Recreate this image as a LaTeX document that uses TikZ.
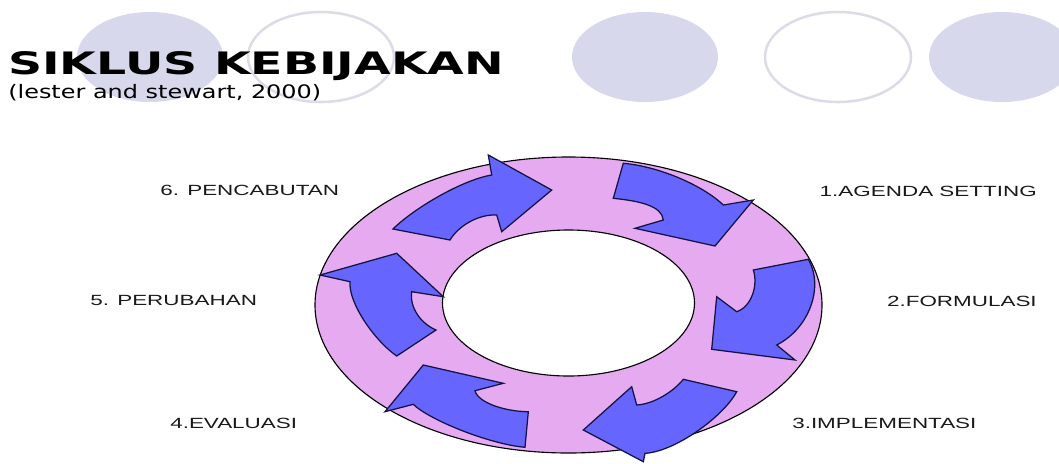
\documentclass[tikz,border=0pt]{standalone}
\usepackage{fontspec}
\setmainfont{Liberation Sans}
\newfontfamily\titlefont{DejaVu Sans}
\usepackage{graphicx}
\definecolor{ringpink}{HTML}{E6AAF0}
\definecolor{arrowblue}{HTML}{6666FF}
\definecolor{arrowline}{HTML}{141444}
\definecolor{dotfill}{HTML}{D8D8EC}
\definecolor{dotline}{HTML}{DCDCE8}
\newcommand{\widetext}[1]{\scalebox{1.52}[1]{#1}}

\begin{document}
\begin{tikzpicture}[x=0.025cm, y=-0.025cm,
        steplabel/.style={inner sep=0pt, text=black!90, font=\fontsize{10.5}{12}\selectfont},
        dotfull/.style={fill=dotfill},
        dotring/.style={draw=dotline, line width=1.8pt},
        cyclearrow/.style={fill=arrowblue, draw=arrowline, line width=0.9pt, line join=miter},
        ]
                \useasboundingbox (0,0) rectangle (1059,463);
                \clip (0,0) rectangle (1059,463);
                \fill[white] (0,0) rectangle (1059,463);

                % header dots
                \fill[dotfull] (150,57) ellipse [x radius=73, y radius=45];
                \draw[dotring] (321,57) ellipse [x radius=73, y radius=45];
                \fill[dotfull] (645,57) ellipse [x radius=73, y radius=45];
                \draw[dotring] (838,57) ellipse [x radius=73, y radius=45];
                \fill[dotfull] (1002,57) ellipse [x radius=73, y radius=45];

                \node[inner sep=0pt, anchor=base west] at (8,74) (title)
                    {\titlefont\bfseries\fontsize{22}{24}\selectfont\scalebox{1.53}[1]{SIKLUS KEBIJAKAN}};
                \node[inner sep=0pt, anchor=base west] at (8,98) (source)
                    {\titlefont\fontsize{13.2}{15}\selectfont\scalebox{1.29}[1]{(lester and stewart, 2000)}};

                % ring
                \draw[fill=ringpink, line width=0.8pt] (568.5,305) ellipse [x radius=253.5, y radius=148];
                \draw[fill=white, line width=0.8pt] (568.5,303) ellipse [x radius=126, y radius=73];

                % arrows, clockwise from the top
                \draw[cyclearrow] (623.3,163.3) .. controls (656.7,166) and (701.7,184.3) .. (723.3,205) -- (753.3,200) -- (715,246)
                    -- (635,228.3) -- (663.3,220) .. controls (662,206) and (640,201) .. (613.3,198.3) -- cycle;
                \draw[cyclearrow] (808.3,259.3) .. controls (824,286) and (810,328) .. (776.7,345) -- (795,360) -- (711.7,349.3)
                    -- (716.7,296.7) -- (736.7,311.7) .. controls (751.7,306.7) and (758.3,285) .. (753.3,270) -- cycle;
                \draw[cyclearrow] (736.7,391.7) .. controls (723.3,416.7) and (675,451.7) .. (645,453.3) -- (643.3,461.7) -- (583.3,430)
                    -- (631.7,386.7) -- (636.7,405) .. controls (655,404) and (675,390) .. (683.3,379.3) -- cycle;
                \draw[cyclearrow] (525,447.3) .. controls (488.3,444) and (428.3,419.3) .. (413.3,404.3) -- (385,411.7) -- (423.3,365)
                    -- (503.3,383.3) -- (475,390.7) .. controls (478.3,403.3) and (506.7,411.7) .. (528.3,411.7) -- cycle;
                \draw[cyclearrow] (396.7,356) .. controls (375,341) and (348.3,303.3) .. (350,281.7) -- (320,275) -- (396.7,253.3)
                    -- (443.3,296.7) -- (411.7,291.7) .. controls (409.3,308.3) and (421.7,324) .. (436,330) -- cycle;
                \draw[cyclearrow] (393,229) .. controls (413,209) and (461.7,180) .. (491.7,175) -- (488.3,155) -- (551.7,190)
                    -- (501.7,231.7) -- (496.7,215) .. controls (478.3,214) and (458.3,226) .. (450,240) -- cycle;

                % step labels
                \node[steplabel, anchor=base east] at (1037,196) (agenda) {\widetext{1.AGENDA SETTING}};
                \node[steplabel, anchor=base east] at (1037,306) (formulasi) {\widetext{2.FORMULASI}};
                \node[steplabel, anchor=base west] at (792,428) (implementasi) {\widetext{3.IMPLEMENTASI}};
                \node[steplabel, anchor=base west] at (170,428) (evaluasi) {\widetext{4.EVALUASI}};
                \node[steplabel, anchor=base west] at (90,305) (perubahan) {\widetext{5. PERUBAHAN}};
                \node[steplabel, anchor=base west] at (160,195) (pencabutan) {\widetext{6. PENCABUTAN}};

\end{tikzpicture}
\end{document}
